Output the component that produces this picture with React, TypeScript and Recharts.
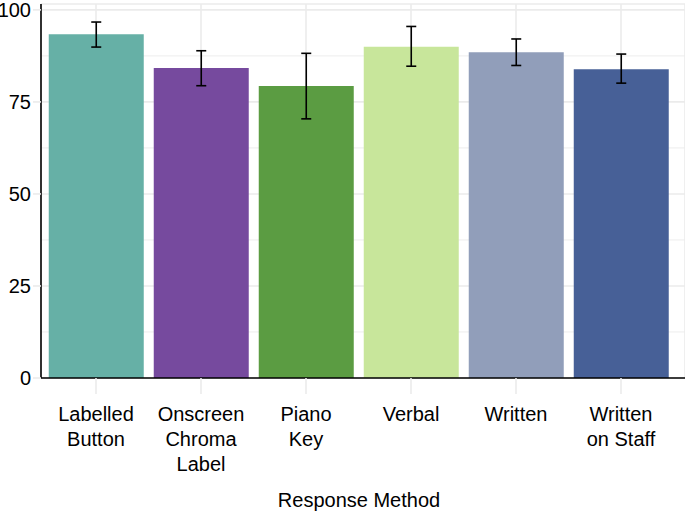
import {
  Bar,
  BarChart,
  CartesianGrid,
  Cell,
  ErrorBar,
  XAxis,
  YAxis,
} from 'recharts'

const categories = [
  'Labelled Button',
  'Onscreen Chroma Label',
  'Piano Key',
  'Verbal',
  'Written',
  'Written on Staff',
]
// how each tick label breaks over lines
const tickLines = [
  ['Labelled', 'Button'],
  ['Onscreen', 'Chroma', 'Label'],
  ['Piano', 'Key'],
  ['Verbal'],
  ['Written'],
  ['Written', 'on Staff'],
]
const means = [93.4, 84.2, 79.3, 90.0, 88.5, 83.9]
const lower = [89.9, 79.4, 70.4, 84.7, 84.9, 80.1]
const upper = [96.7, 88.9, 88.2, 95.5, 92.1, 88.0]
const colours = ['#66B0A6', '#764A9E', '#5B9C42', '#C8E69B', '#919EBA', '#476097']
const yTicks = [0, 25, 50, 75, 100]
const minorTicks = [12.5, 37.5, 62.5, 87.5]

const FONT = '"Liberation Sans", Arial, Helvetica, sans-serif'
const GRID = '#EBEBEB'

const data = categories.map((name, i) => ({
  name,
  mean: means[i],
  err: [means[i] - lower[i], upper[i] - means[i]],
}))

function CategoryTick(props: any) {
  const { x, y, index } = props
  const lines = tickLines[index] ?? [String(props?.payload?.value ?? '')]
  return (
    <text x={x} y={y} textAnchor="middle" fontSize={20} fill="#000" fontFamily={FONT}>
      {lines.map((line, i) => (
        <tspan key={i} x={x} dy={i === 0 ? 27 : 25}>
          {line}
        </tspan>
      ))}
    </text>
  )
}

export default function App() {
  return (
    <div style={{ position: 'absolute', left: 0, top: 0, background: '#fff' }}>
      <BarChart
        width={685}
        height={511}
        data={data}
        margin={{ top: 4, right: 0, bottom: 0, left: 0 }}
        barCategoryGap="5%"
        style={{ fontFamily: FONT }}
      >
        {/* minor grid first, then major grid */}
        <CartesianGrid
          vertical={false}
          horizontalValues={minorTicks}
          stroke={GRID}
          strokeWidth={0.9}
        />
        <CartesianGrid stroke={GRID} strokeWidth={1.6} />
        <XAxis
          dataKey="name"
          type="category"
          interval={0}
          height={133}
          padding={{ left: 2.5, right: 11.5 }}
          tickSize={16}
          tickMargin={0}
          tickLine={{ stroke: GRID, strokeWidth: 1.6 }}
          axisLine={{ stroke: '#000', strokeWidth: 1.6 }}
          tick={<CategoryTick />}
          label={{
            value: 'Response Method',
            position: 'insideBottom',
            offset: 4,
            dx: -4,
            fontSize: 20,
            fill: '#000',
            fontFamily: FONT,
          }}
        />
        <YAxis
          type="number"
          width={41}
          domain={[0, 101.6]}
          ticks={yTicks}
          interval={0}
          tickSize={8}
          tickMargin={2}
          tickLine={{ stroke: GRID, strokeWidth: 1.6 }}
          axisLine={{ stroke: '#000', strokeWidth: 1.6 }}
          tick={{ fontSize: 20, fill: '#000', fontFamily: FONT }}
        />
        <Bar dataKey="mean" isAnimationActive={false}>
          {data.map((_, i) => (
            <Cell key={i} fill={colours[i]} />
          ))}
          <ErrorBar
            dataKey="err"
            direction="y"
            width={5}
            stroke="#000"
            strokeWidth={1.6}
            isAnimationActive={false}
          />
        </Bar>
      </BarChart>
    </div>
  )
}
